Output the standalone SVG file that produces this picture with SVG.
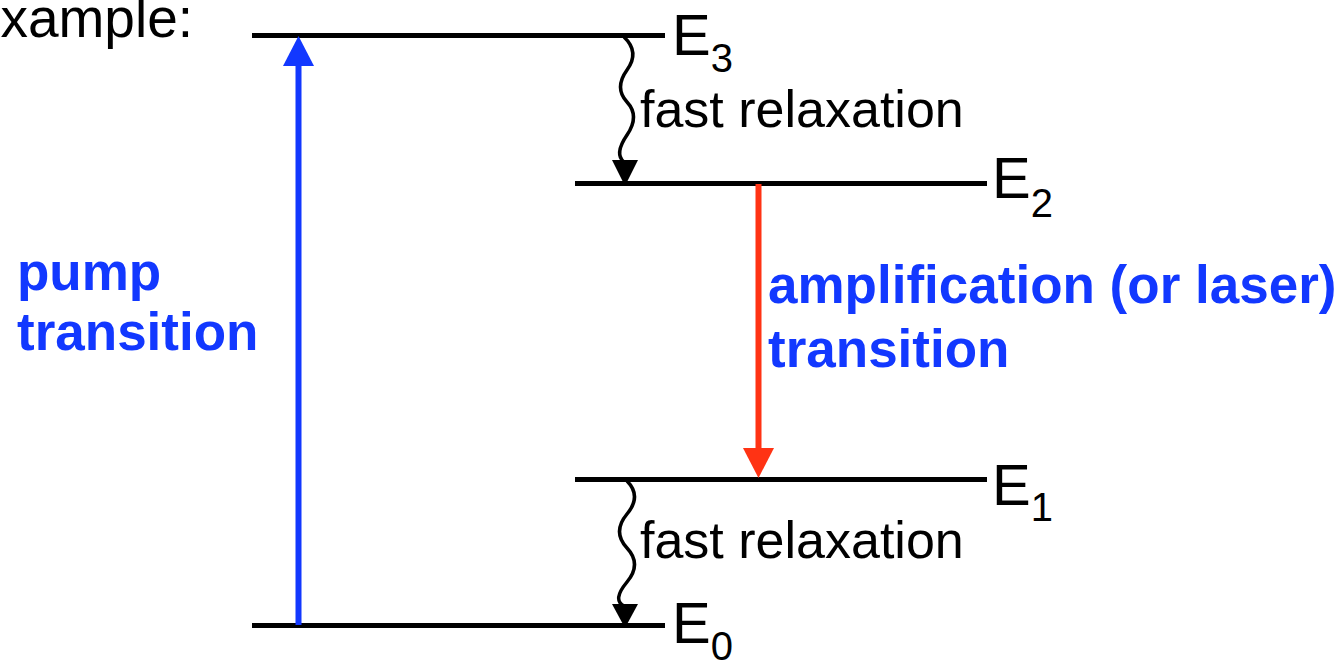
<svg xmlns="http://www.w3.org/2000/svg" width="1343" height="663" viewBox="0 0 1343 663">
<style>
.lvl{stroke:#000;stroke-width:5;fill:none}
.wave{stroke:#000;stroke-width:3.5;fill:none}
.t{font-family:"Liberation Sans",Arial,sans-serif;fill:#000}
.b{font-family:"Liberation Sans",Arial,sans-serif;font-weight:bold;fill:#1238ff;font-size:53px}
.E{font-size:58px}
.sub{font-size:40px}
</style>
<rect width="1343" height="663" fill="#fff"/>
<text class="t" x="193" y="37" font-size="55" text-anchor="end">Example:</text>
<g id="E3"><line class="lvl" x1="252" y1="35.5" x2="665" y2="35.5"/><text class="t E" x="672" y="55">E<tspan class="sub" dy="17">3</tspan></text></g>
<g id="E2"><line class="lvl" x1="575" y1="183.5" x2="987" y2="183.5"/><text class="t E" x="992" y="198">E<tspan class="sub" dy="19">2</tspan></text></g>
<g id="E1"><line class="lvl" x1="575" y1="479.5" x2="987" y2="479.5"/><text class="t E" x="992" y="505">E<tspan class="sub" dy="16">1</tspan></text></g>
<g id="E0"><line class="lvl" x1="252" y1="625.5" x2="665" y2="625.5"/><text class="t E" x="672" y="643">E<tspan class="sub" dy="17">0</tspan></text></g>
<g id="connectors">
<line x1="298.5" y1="625" x2="298.5" y2="64" stroke="#1238ff" stroke-width="6"/>
<polygon points="283,66 314,66 298.5,36" fill="#1238ff"/>
<line x1="758.5" y1="184" x2="758.5" y2="450" stroke="#ff3314" stroke-width="6"/>
<polygon points="743,448 774,448 758.5,478" fill="#ff3314"/>
<path class="wave" d="M624 37 Q640 52 627 70 T627 102 T627 135 T624 162"/>
<polygon points="612,160 638,160 625,186"/>
<path class="wave" d="M627 481 Q642 496 627 514 T627 548 T627 582 T624 606"/>
<polygon points="612,604 638,604 625,628"/>
</g>
<text class="t" x="640" y="127" font-size="52">fast relaxation</text>
<text class="t" x="640" y="558" font-size="52">fast relaxation</text>
<g id="pump"><text class="b" x="17" y="290">pump</text><text class="b" x="17" y="350">transition</text></g>
<g id="amp"><text class="b" x="768" y="303">amplification (or laser)</text><text class="b" x="768" y="367">transition</text></g>
</svg>
